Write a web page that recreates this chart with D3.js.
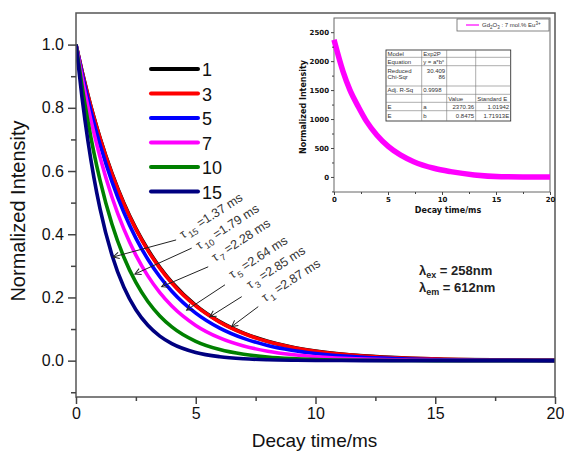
<!DOCTYPE html>
<html>
<head>
<meta charset="utf-8">
<script src="https://cdn.jsdelivr.net/npm/d3@7"></script>
<style>
  html, body { margin: 0; padding: 0; background: #fff; }
  svg { display: block; font-family: "Liberation Sans", Arial, sans-serif; }
</style>
</head>
<body>
<svg id="chart" width="564" height="451"></svg>
<script>
// ---- decay data: normalized intensity vs time (ms) ----
const times = [0, 0.25, 0.5, 0.75, 1, 1.5, 2, 2.5, 3, 3.5, 4, 5, 6, 7, 8, 9, 10, 12, 14, 16, 18, 20];

const series1  = [1, 0.9166, 0.8401, 0.7700, 0.7058, 0.5930, 0.4981, 0.4185, 0.3516, 0.2954, 0.2482, 0.1752, 0.1236, 0.0872, 0.0616, 0.0434, 0.0307, 0.0153, 0.0076, 0.0038, 0.0019, 0.0009];
const series3  = [1, 0.9160, 0.8391, 0.7686, 0.7041, 0.5908, 0.4957, 0.4160, 0.3490, 0.2929, 0.2457, 0.1730, 0.1218, 0.0858, 0.0604, 0.0425, 0.0299, 0.0148, 0.0074, 0.0036, 0.0018, 0.0009];
const series5  = [1, 0.9096, 0.8275, 0.7527, 0.6847, 0.5665, 0.4688, 0.3879, 0.3210, 0.2656, 0.2198, 0.1505, 0.1030, 0.0705, 0.0483, 0.0331, 0.0226, 0.0106, 0.0050, 0.0023, 0.0011, 0.0005];
const series7  = [1, 0.8962, 0.8031, 0.7197, 0.6449, 0.5179, 0.4160, 0.3340, 0.2683, 0.2154, 0.1730, 0.1116, 0.0720, 0.0464, 0.0299, 0.0193, 0.0125, 0.0052, 0.0022, 0.0009, 0.0004, 0.0002];
const series10 = [1, 0.8697, 0.7563, 0.6577, 0.5720, 0.4326, 0.3272, 0.2474, 0.1871, 0.1415, 0.1070, 0.0612, 0.0350, 0.0200, 0.0115, 0.0066, 0.0037, 0.0012, 0.0004, 0.0001, 0, 0];
const series15 = [1, 0.8332, 0.6942, 0.5784, 0.4819, 0.3346, 0.2323, 0.1612, 0.1119, 0.0777, 0.0540, 0.0260, 0.0125, 0.0060, 0.0029, 0.0014, 0.0007, 0.0002, 0, 0, 0, 0];

const concentrations = ["1", "3", "5", "7", "10", "15"];
const lifetimes = [2.87, 2.85, 2.64, 2.28, 1.79, 1.37];   // ms
const seriesValues = [series1, series3, series5, series7, series10, series15];
const seriesColors = ["#000000", "#ff0000", "#0000ff", "#ff00ff", "#008000", "#000080"];

const xTicks = [0, 5, 10, 15, 20];
const yTicks = [0, 0.2, 0.4, 0.6, 0.8, 1.0];

// ---- inset: single decay of Gd2O3 : 7 mol.% Eu3+ ----
const insetTimes  = [0, 0.84, 1.47, 2.25, 3.03, 3.96, 5.05, 6.14, 7.38, 9.25, 10.8, 13, 15.5, 17.5, 20];
const insetValues = [2370, 1819, 1503, 1214, 955, 725, 523, 380, 264, 150, 92, 35, 5, 0, 0];
const insetXTicks = [0, 5, 10, 15, 20];
const insetYTicks = [0, 500, 1000, 1500, 2000, 2500];
const fitTable = [
  ["Model", "Exp2P", "", ""],
  ["Equation", "y = a*b^x", "", ""],
  ["Reduced|Chi-Sqr", "30.409|86", "", ""],
  ["Adj. R-Sq", "0.9998", "", ""],
  ["", "", "Value", "Standard E"],
  ["E", "a", "2370.36", "1.01942"],
  ["E", "b", "0.8475", "1.71913E"]
];

const svg = d3.select("#chart");

// ---------- main plot ----------
const M = { left: 76, right: 555, top: 13, bottom: 397 };
const x = d3.scaleLinear().domain([0, 20]).range([M.left, M.right]);
const y = d3.scaleLinear().domain([-0.115, 1.1]).range([M.bottom, M.top]);

svg.append("defs").append("clipPath").attr("id", "plotClip")
  .append("rect").attr("x", M.left).attr("y", M.top)
  .attr("width", M.right - M.left).attr("height", M.bottom - M.top);

const line = d3.line()
  .x((d, i) => x(times[i]))
  .y(d => y(d))
  .curve(d3.curveMonotoneX);

const curves = svg.append("g").attr("clip-path", "url(#plotClip)");
seriesValues.forEach((vals, k) => {
  curves.append("path")
    .attr("d", line(vals))
    .attr("fill", "none")
    .attr("stroke", seriesColors[k])
    .attr("stroke-width", 3.6)
    .attr("stroke-linejoin", "round");
});

// frame
svg.append("rect")
  .attr("x", M.left).attr("y", M.top)
  .attr("width", M.right - M.left).attr("height", M.bottom - M.top)
  .attr("fill", "none").attr("stroke", "#555").attr("stroke-width", 1.5);

// axes
const axisColor = "#444";
const xAxis = d3.axisBottom(x).tickValues(xTicks).tickSize(7).tickPadding(4).tickFormat(d3.format("d"));
const gx = svg.append("g").attr("transform", `translate(0,${M.bottom})`).call(xAxis);
gx.selectAll("text").attr("font-size", 16).attr("fill", "#111");
svg.append("g").attr("transform", `translate(0,${M.bottom})`)
  .call(d3.axisBottom(x).tickValues(d3.range(2.5, 20, 5)).tickSize(4).tickFormat(""));

const yAxis = d3.axisLeft(y).tickValues(yTicks).tickSize(8).tickPadding(4).tickFormat(d3.format(".1f"));
const gy = svg.append("g").attr("transform", `translate(${M.left},0)`).call(yAxis);
gy.selectAll("text").attr("font-size", 16).attr("fill", "#111");
svg.append("g").attr("transform", `translate(${M.left},0)`)
  .call(d3.axisLeft(y).tickValues([-0.1, 0.1, 0.3, 0.5, 0.7, 0.9]).tickSize(5).tickFormat(""));

svg.selectAll(".domain").remove();
svg.selectAll(".tick line").attr("stroke", axisColor).attr("stroke-width", 1.5);

// axis titles
svg.append("text")
  .attr("x", (M.left + M.right) / 2 - 1).attr("y", 447)
  .attr("text-anchor", "middle").attr("font-size", 19).attr("fill", "#111")
  .text("Decay time/ms");
svg.append("text")
  .attr("transform", `translate(25,${(M.top + M.bottom) / 2 + 6}) rotate(-90)`)
  .attr("text-anchor", "middle").attr("font-size", 20).attr("fill", "#111")
  .text("Normalized Intensity");

// legend
const legend = svg.append("g").attr("transform", "translate(151,69)");
concentrations.forEach((c, k) => {
  const row = legend.append("g").attr("transform", `translate(0,${k * 24.5})`);
  row.append("line").attr("x1", 0).attr("x2", 47).attr("y1", 0).attr("y2", 0)
    .attr("stroke", seriesColors[k]).attr("stroke-width", 4).attr("stroke-linecap", "round");
  row.append("text").attr("x", 51).attr("y", 7).attr("font-size", 18).attr("fill", "#111").text(c);
});

// lifetime annotations with arrows
const defs = svg.select("defs");
defs.append("marker").attr("id", "arrow")
  .attr("viewBox", "-8 -5 10 10").attr("refX", 0).attr("refY", 0)
  .attr("markerWidth", 10).attr("markerHeight", 10)
  .attr("markerUnits", "userSpaceOnUse").attr("orient", "auto")
  .append("path").attr("d", "M-6,-3.2 L0,0 L-6,3.2")
  .attr("fill", "none").attr("stroke", "#222").attr("stroke-width", 1);

// label anchor (text start) and arrow tail/tip, in data units
const annotLayout = {
  "15": { text: [4.47, 0.385], tail: [4.18, 0.382], tip: [1.55, 0.328] },
  "10": { text: [5.15, 0.35], tail: [4.83, 0.356], tip: [2.46, 0.274] },
  "7":  { text: [5.8, 0.312], tail: [5.52, 0.297], tip: [3.58, 0.234] },
  "5":  { text: [6.52, 0.258], tail: [6.22, 0.24], tip: [4.62, 0.16] },
  "3":  { text: [7.26, 0.226], tail: [6.92, 0.2025], tip: [5.59, 0.139] },
  "1":  { text: [7.89, 0.185], tail: [7.61, 0.171], tip: [6.5, 0.108] }
};
const annot = svg.append("g");
concentrations.forEach((c, k) => {
  const L = annotLayout[c];
  annot.append("line")
    .attr("x1", x(L.tail[0])).attr("y1", y(L.tail[1]))
    .attr("x2", x(L.tip[0])).attr("y2", y(L.tip[1]))
    .attr("stroke", "#222").attr("stroke-width", 1)
    .attr("marker-end", "url(#arrow)");
  const t = annot.append("text")
    .attr("transform", `translate(${x(L.text[0])},${y(L.text[1])}) rotate(-33)`)
    .attr("font-size", 12.5).attr("fill", "#333");
  t.append("tspan").text("τ");
  t.append("tspan").attr("font-size", 9).attr("dy", 3.5).attr("dx", 2).text(c);
  t.append("tspan").attr("dy", -3.5).text(" =" + lifetimes[k].toFixed(2) + " ms");
});

// excitation / emission wavelengths
const lam = svg.append("g").attr("font-family", "'Liberation Sans Narrow', 'Liberation Sans', Arial, sans-serif")
  .attr("font-weight", "bold").attr("fill", "#222");
[["ex", "258"], ["em", "612"]].forEach(([sub, val], i) => {
  const t = lam.append("text").attr("x", 419).attr("y", 275 + i * 17).attr("font-size", 13);
  t.append("tspan").text("λ");
  t.append("tspan").attr("font-size", 9).attr("dy", 3).text(sub);
  t.append("tspan").attr("dy", -3).text(" = " + val + "nm");
});

// ---------- inset ----------
const I = { left: 334, right: 550, top: 18, bottom: 192 };
const ix = d3.scaleLinear().domain([0, 20]).range([I.left, I.right]);
const iy = d3.scaleLinear().domain([-260, 2745]).range([I.bottom, I.top]);

svg.append("rect").attr("x", I.left).attr("y", I.top)
  .attr("width", I.right - I.left).attr("height", I.bottom - I.top)
  .attr("fill", "#fff").attr("stroke", "#666").attr("stroke-width", 1);

const iline = d3.line().x((d, i) => ix(insetTimes[i])).y(d => iy(d)).curve(d3.curveMonotoneX);
svg.append("path").attr("d", iline(insetValues))
  .attr("fill", "none").attr("stroke", "#ff00ff").attr("stroke-width", 5.5);

const ixAxis = svg.append("g").attr("transform", `translate(0,${I.bottom})`)
  .call(d3.axisBottom(ix).tickValues(insetXTicks).tickSize(3).tickPadding(2).tickFormat(d3.format("d")));
svg.append("g").attr("transform", `translate(0,${I.bottom})`)
  .call(d3.axisBottom(ix).tickValues(d3.range(2.5, 20, 5)).tickSize(2).tickFormat(""));
const iyAxis = svg.append("g").attr("transform", `translate(${I.left},0)`)
  .call(d3.axisLeft(iy).tickValues(insetYTicks).tickSize(3).tickPadding(2).tickFormat(d3.format("d")));
svg.append("g").attr("transform", `translate(${I.left},0)`)
  .call(d3.axisLeft(iy).tickValues([-250, 250, 750, 1250, 1750, 2250]).tickSize(2).tickFormat(""));
[ixAxis, iyAxis].forEach(g => g.selectAll("text")
  .attr("font-size", 7).attr("font-weight", "bold").attr("fill", "#111")
  .attr("font-family", "'DejaVu Sans', sans-serif"));
svg.selectAll(".domain").remove();
svg.selectAll(".tick line").attr("stroke", "#444");

svg.append("text").attr("x", (I.left + I.right) / 2 + 6).attr("y", 213)
  .attr("text-anchor", "middle").attr("font-size", 8).attr("font-weight", "bold")
  .attr("font-family", "'DejaVu Sans', sans-serif").attr("fill", "#111").text("Decay time/ms");
svg.append("text")
  .attr("transform", `translate(306,${(I.top + I.bottom) / 2 + 2}) rotate(-90)`)
  .attr("text-anchor", "middle").attr("font-size", 8).attr("font-weight", "bold")
  .attr("font-family", "'DejaVu Sans', sans-serif").attr("fill", "#111").text("Normalized Intensity");

// inset legend
const ileg = svg.append("g");
ileg.append("rect").attr("x", 457).attr("y", 19).attr("width", 92).attr("height", 12)
  .attr("fill", "#fff").attr("stroke", "#666").attr("stroke-width", 0.8);
ileg.append("line").attr("x1", 466).attr("x2", 479).attr("y1", 25).attr("y2", 25)
  .attr("stroke", "#ff00ff").attr("stroke-width", 1.2);
const lt = ileg.append("text").attr("x", 482).attr("y", 27).attr("font-size", 6).attr("fill", "#333");
lt.append("tspan").text("Gd");
lt.append("tspan").attr("font-size", 4.5).attr("dy", 1.5).text("2");
lt.append("tspan").attr("dy", -1.5).text("O");
lt.append("tspan").attr("font-size", 4.5).attr("dy", 1.5).text("3");
lt.append("tspan").attr("dy", -1.5).text(" : 7 mol.% Eu");
lt.append("tspan").attr("font-size", 4.5).attr("dy", -2.5).text("3+");

// fit table
const colX = [386, 421.7, 446.7, 475.7, 510.7];
const rowY = [50, 57.3, 65.7, 86, 94.3, 102.3, 110.7, 121];
const tbl = svg.append("g");
tbl.append("rect").attr("x", colX[0]).attr("y", rowY[0])
  .attr("width", colX[4] - colX[0]).attr("height", rowY[7] - rowY[0])
  .attr("fill", "#fff").attr("stroke", "#333").attr("stroke-width", 0.9);
rowY.slice(1, -1).forEach(yy => tbl.append("line")
  .attr("x1", colX[0]).attr("x2", colX[4]).attr("y1", yy).attr("y2", yy)
  .attr("stroke", "#777").attr("stroke-width", 0.6));
colX.slice(1, -1).forEach(xx => tbl.append("line")
  .attr("x1", xx).attr("x2", xx).attr("y1", rowY[0]).attr("y2", rowY[7])
  .attr("stroke", "#777").attr("stroke-width", 0.6));
defs.append("clipPath").attr("id", "cellClip")
  .append("rect").attr("x", colX[3]).attr("y", rowY[0]).attr("width", colX[4] - colX[3] - 0.5).attr("height", rowY[7] - rowY[0]);
fitTable.forEach((row, r) => {
  row.forEach((cell, c) => {
    if (!cell) return;
    const lines = cell.split("|");
    const numeric = r >= 5 && c >= 2 || (r === 2 && c === 1);
    lines.forEach((txt, li) => {
      const yy = (lines.length > 1 ? rowY[r] + 7 + li * 6.5 : (rowY[r] + rowY[r + 1]) / 2 + 2.2);
      const t = tbl.append("text")
        .attr("x", numeric ? colX[c + 1] - 1.5 : colX[c] + 1.5)
        .attr("y", yy)
        .attr("text-anchor", numeric ? "end" : "start")
        .attr("font-size", 6).attr("fill", "#333");
      if (c === 3) t.attr("clip-path", "url(#cellClip)");
      if (txt.endsWith("^x")) {
        t.append("tspan").text(txt.slice(0, -2));
        t.append("tspan").attr("font-size", 4).attr("dy", -2).text("x");
      } else {
        t.text(txt);
      }
    });
  });
});
</script>
</body>
</html>
